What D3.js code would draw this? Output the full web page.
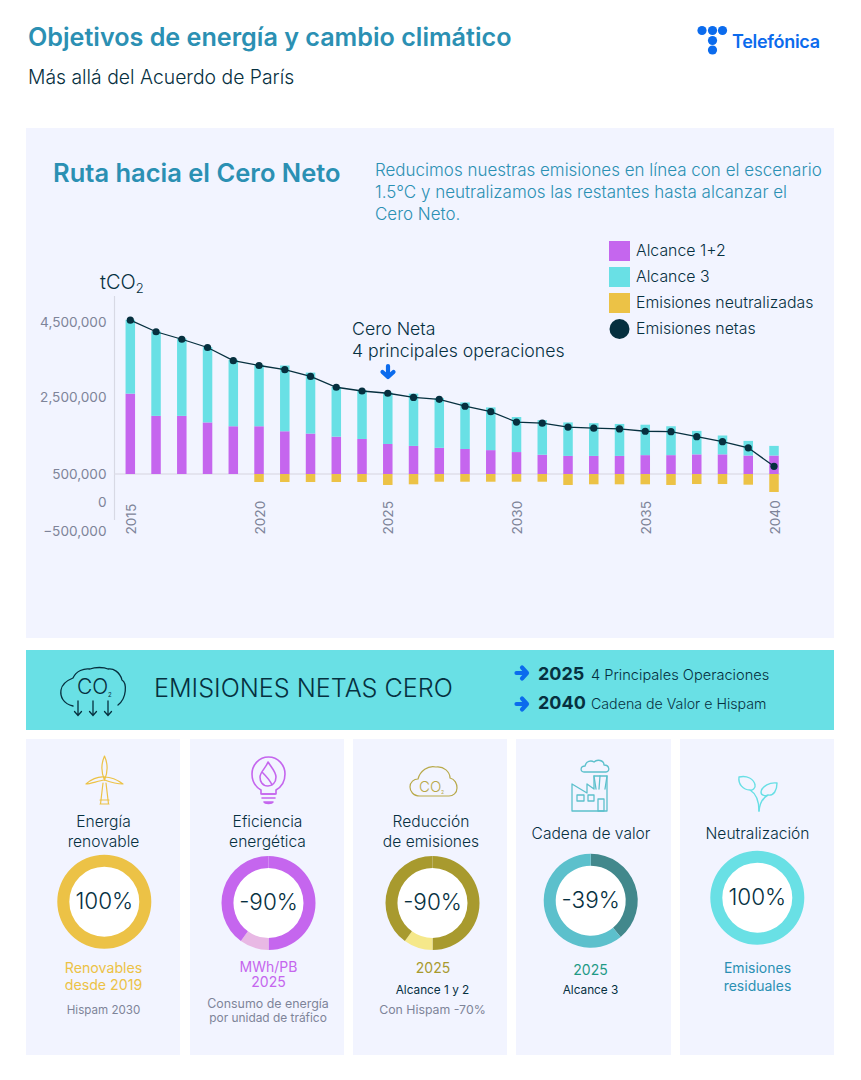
<!DOCTYPE html>
<html><head><meta charset="utf-8">
<script src="https://cdn.jsdelivr.net/npm/d3@7"></script>
<style>html,body{margin:0;padding:0;background:#fff}svg{display:block}text{font-family:Inter,"Noto Sans",sans-serif}</style>
</head><body><svg id="c" width="861" height="1080"></svg>
<script>
const years = d3.range(2015, 2041);
const tickYears = [2015,2020,2025,2030,2035,2040];
const yTicks = [4500000,2500000,500000,0,-500000];
const axisBase = 500000;
const alcance12 = [2090000,1510000,1510000,1340000,1240000,1240000,1110000,1050000,970000,910000,780000,730000,680000,650000,620000,570000,500000,470000,470000,470000,490000,490000,510000,510000,480000,480000];
const alcance3 = [1970000,2240000,2050000,1990000,1750000,1620000,1730000,1600000,1300000,1270000,1340000,1360000,1290000,1210000,1110000,910000,900000,870000,850000,830000,790000,750000,610000,490000,380000,250000];
const neutralizadas = [0,0,0,0,0,143000,143000,143000,143000,143000,196000,184000,138000,138000,138000,138000,138000,196000,184000,184000,184000,196000,179000,179000,191000,321000];
const netas = [4050000,3740000,3540000,3320000,2970000,2840000,2730000,2550000,2260000,2160000,2100000,1990000,1940000,1760000,1620000,1350000,1320000,1220000,1190000,1170000,1110000,1100000,970000,840000,680000,200000];
const legendLabels = ["Alcance 1+2","Alcance 3","Emisiones neutralizadas","Emisiones netas"];

const NAVY="#06303f", TEAL="#2b90b3", GREY="#7e8499", PANEL="#f2f4ff", CYAN="#69e0e5", PURPLE="#c566ee", YELLOW="#ecc246", BLUE="#0b6bed";
const svg=d3.select("#c");
function T(x,y,s,size,fill,anchor,weight,parent){
  return (parent||svg).append("text").attr("x",x).attr("y",y).attr("font-size",size).attr("fill",fill)
    .attr("text-anchor",anchor||"start").attr("font-weight",weight||400).text(s);
}
function R(x,y,w,h,fill){return svg.append("rect").attr("x",x).attr("y",y).attr("width",w).attr("height",h).attr("fill",fill);}

// header
T(28,46,"Objetivos de energía y cambio climático",25.15,TEAL,"start",600);
T(28,84,"Más allá del Acuerdo de París",19.35,NAVY,"start",300);
// logo
const logo=svg.append("g").attr("fill",BLUE);
[[702,30.5],[712.5,30.5],[722.5,30.5],[712.5,40.5],[712.5,50]].forEach(p=>logo.append("circle").attr("cx",p[0]).attr("cy",p[1]).attr("r",4.6));
T(732,48,"Telefónica",18,BLUE,"start",600).attr("letter-spacing",-0.3);

// main panel
R(26,128,808,510,PANEL);
T(53,182,"Ruta hacia el Cero Neto",25.5,TEAL,"start",600);
["Reducimos nuestras emisiones en línea con el escenario","1.5°C y neutralizamos las restantes hasta alcanzar el","Cero Neto."].forEach((s,i)=>T(375,176+i*22,s,16.98,TEAL,"start",300));

// chart
const x=d3.scalePoint().domain(years).range([130.3,774]);
const y=d3.scaleLinear().domain([-500000,0,500000,2500000,4500000]).range([531,502,474,397,322]);
const bw=9.5;
const axisY=d3.axisLeft(y).tickValues(yTicks).tickSize(0).tickFormat(d3.format(","));
const gy=svg.append("g").attr("transform","translate(110,0)").call(axisY);
gy.select(".domain").remove();
gy.selectAll("text").attr("fill",GREY).attr("font-size",13.6).attr("dx",-0.5).style("font-family","Inter");
svg.append("line").attr("x1",114.5).attr("x2",114.5).attr("y1",296).attr("y2",520).attr("stroke","#d8d9e4").attr("stroke-width",1.2);
const axisX=d3.axisBottom(x).tickValues(tickYears).tickSize(0);
const gx=svg.append("g").attr("transform","translate(0,474)").call(axisX);
gx.select(".domain").attr("stroke","#dfdfea").attr("stroke-width",1.5).attr("d","M114.5,0H780");
gx.selectAll("text").attr("fill",GREY).attr("font-size",13.6).attr("text-anchor","start").attr("dy",0)
  .attr("transform","translate(5,60.5) rotate(-90)").attr("x",0).attr("y",0).style("font-family","Inter");

const bars=svg.append("g");
years.forEach((yr,i)=>{
  const cx=x(yr);
  const y0=y(axisBase), y1=y(axisBase+alcance12[i]), y2=y(axisBase+alcance12[i]+alcance3[i]);
  bars.append("rect").attr("x",cx-bw/2).attr("width",bw).attr("y",y1).attr("height",y0-y1).attr("fill",PURPLE);
  bars.append("rect").attr("x",cx-bw/2).attr("width",bw).attr("y",y2).attr("height",y1-y2).attr("fill",CYAN);
  if(neutralizadas[i]>0){
    const y3=y(axisBase-neutralizadas[i]);
    bars.append("rect").attr("x",cx-bw/2).attr("width",bw).attr("y",y0).attr("height",y3-y0).attr("fill",YELLOW);
  }
});
const line=d3.line().x((d,i)=>x(years[i])).y(d=>y(axisBase+d));
svg.append("path").attr("d",line(netas)).attr("fill","none").attr("stroke",NAVY).attr("stroke-width",1.3);
svg.append("g").selectAll("circle").data(netas).join("circle")
  .attr("cx",(d,i)=>x(years[i])).attr("cy",d=>y(axisBase+d)).attr("r",3.6).attr("fill",NAVY);

// unit
const unit=T(100,289,"tCO",20,NAVY,"start",300);
unit.append("tspan").attr("font-size",13).attr("dy",3.5).text("2");
// legend
[PURPLE,CYAN,YELLOW].forEach((c,i)=>R(609,241+i*26,21,20,c));
svg.append("circle").attr("cx",619.5).attr("cy",329).attr("r",10).attr("fill",NAVY);
legendLabels.forEach((s,i)=>T(636,256+i*26,s,15.85,NAVY,"start",300));
// annotation
T(352,335,"Cero Neta",17.7,NAVY,"start",300);
T(352,357,"4 principales operaciones",17.7,NAVY,"start",300);
function downArrow(cx,cy,c){
  svg.append("path").attr("d",`M${cx},${cy-6}V${cy+4}M${cx-5.5},${cy}L${cx},${cy+5}L${cx+5.5},${cy}`)
   .attr("fill","none").attr("stroke",c).attr("stroke-width",4.2).attr("stroke-linejoin","round").attr("stroke-linecap","round");
}
downArrow(388,372,BLUE);

// band
R(26,650,808,80,CYAN);
T(154,697,"EMISIONES NETAS CERO",25.15,NAVY,"start",300);
function rightArrow(cx,cy,c){
  svg.append("path").attr("d",`M${cx-5.5},${cy}H${cx+4}M${cx},${cy-5.5}L${cx+5},${cy}L${cx},${cy+5.5}`)
   .attr("fill","none").attr("stroke",c).attr("stroke-width",4.2).attr("stroke-linejoin","round").attr("stroke-linecap","round");
}
rightArrow(522,673,BLUE); rightArrow(522,704,BLUE);
T(538,680,"2025",18,NAVY,"start",700);
T(591,680,"4 Principales Operaciones",14.6,NAVY,"start",300);
T(538,709,"2040",18,NAVY,"start",700);
T(591,709,"Cadena de Valor e Hispam",14.2,NAVY,"start",300);
// CO2 cloud icon
const ci=svg.append("g").attr("fill","none").attr("stroke",NAVY).attr("stroke-width",1.3).attr("stroke-linecap","round");
ci.append("path").attr("d","M73,706C63,704 60,696 61,690C62,684 68,680 73,678C76,671 84,668 90,669C95,667 104,667 108,669C113,668 120,672 122,680C127,683 127,698 118,705");
T(77,694,"CO",21,NAVY,"start",300).attr("stroke","none");
T(108,697,"2",6,NAVY);
[78,93,108].forEach(px=>ci.append("path").attr("d",`M${px},701V715M${px-3.5},711.5L${px},715.5L${px+3.5},711.5`));

// cards
const cardX=[[26,154],[190,154],[353,154],[516,155],[680,154]];
cardX.forEach(c=>R(c[0],739,c[1],316,PANEL));

const donuts=[
 {cx:104.3,cy:901.7,vals:[100],cols:[YELLOW],label:"100%"},
 {cx:268.5,cy:903,vals:[50,10,40],cols:[PURPLE,"#e8b8e4",PURPLE],label:"-90%"},
 {cx:432.5,cy:903,vals:[50,10,40],cols:["#a89a2e","#f5e88a","#a89a2e"],label:"-90%"},
 {cx:590.7,cy:900.7,vals:[39,61],cols:["#42888c","#5cc0cc"],label:"-39%"},
 {cx:757.3,cy:897.7,vals:[100],cols:[CYAN],label:"100%"}
];
const arc=d3.arc().innerRadius(35).outerRadius(47);
const pie=d3.pie().sort(null);
donuts.forEach(d=>{
  const g=svg.append("g").attr("transform",`translate(${d.cx},${d.cy})`);
  g.append("circle").attr("r",36).attr("fill","#fff");
  g.selectAll("path").data(pie(d.vals)).join("path").attr("d",arc).attr("fill",(p,i)=>d.cols[i]);
  T(0,7,d.label,22.5,NAVY,"middle",300,g);
});

// card texts
const C=[103.5,267.5,431,591,757.5];
T(C[0],827,"Energía",15.6,NAVY,"middle",300); T(C[0],847,"renovable",15.6,NAVY,"middle",300);
T(C[1],827,"Eficiencia",15.6,NAVY,"middle",300); T(C[1],847,"energética",15.6,NAVY,"middle",300);
T(C[2],827,"Reducción",15.6,NAVY,"middle",300); T(C[2],847,"de emisiones",15.6,NAVY,"middle",300);
T(C[3],839,"Cadena de valor",15.6,NAVY,"middle",300);
T(C[4],839,"Neutralización",15.6,NAVY,"middle",300);

T(C[0],973,"Renovables",14.2,YELLOW,"middle",400); T(C[0],990,"desde 2019",14.2,YELLOW,"middle",400);
T(C[0],1014,"Hispam 2030",11.6,GREY,"middle");

T(268.5,972,"MWh/PB",14,PURPLE,"middle",400); T(268.5,987,"2025",14,PURPLE,"middle",400);
T(268,1008,"Consumo de energía",12.4,GREY,"middle"); T(268,1022,"por unidad de tráfico",11.9,GREY,"middle");

T(433,973,"2025",14,"#a89a2e","middle");
T(432.5,994,"Alcance 1 y 2",11.8,NAVY,"middle");
T(432.5,1014,"Con Hispam -70%",12.3,GREY,"middle");

T(590.5,975,"2025",14,"#1f9a86","middle");
T(590.5,994,"Alcance 3",11.8,NAVY,"middle");

T(757.5,973,"Emisiones",14,TEAL,"middle"); T(757.5,991,"residuales",14,TEAL,"middle");

// icons
function icon(c,w){return svg.append("g").attr("fill","none").attr("stroke",c).attr("stroke-width",w||1.2).attr("stroke-linejoin","round").attr("stroke-linecap","round");}
const t=icon(YELLOW);
t.append("path").attr("d","M104.5,756C101,764 101,772 104.5,780C108,772 108,764 104.5,756Z");
t.append("path").attr("d","M104.5,780C98,781 90,784 86,784C90,780 98,776 104.5,777Z");
t.append("path").attr("d","M104.5,777C112,777 119,781 123,784C118,784 110,782 104.5,780Z");
t.append("path").attr("d","M103,783L100.5,804H108.5L106,783M100,800H109M100,804H109");
const b=icon(PURPLE,1.6);
b.append("path").attr("d","M261,790C254,786 252,780 252,774C252,765 259,757 268.5,757C278,757 285,765 285,774C285,780 283,786 276,790V794H261Z");
b.append("path").attr("d","M262,794H275M262,798H275M264,802H273C272,804 265,804 264,802Z");
b.append("path").attr("d","M268,762C272,768 276,772 276,777C276,783 272,786 268,786C262,786 260,781 260,777C260,772 266,768 268,762ZM262,772C266,776 270,780 272,785");
const cl=icon("#b8a94a");
cl.append("path").attr("d","M420,796C413,796 410,791 410,787C410,782 414,779 418,779C420,771 428,765 436,767C444,766 450,772 450,778C455,779 457,784 457,788C457,793 453,796 449,796Z");
T(419,792,"CO",15,"#b8a94a","start",300).attr("stroke","none");
T(441,794,"2",5,"#b8a94a");
const f=icon("#5cc0cc",1.3);
f.append("path").attr("d","M572,811V784L587,793V784L594,789V776H607V811Z");
f.append("path").attr("d","M577,795H584V801H577ZM588,795H594V801H588ZM598,799H604V811H598Z");
f.append("path").attr("d","M594,776L596,789M600,776L599,789M607,776L605,789");
f.append("path").attr("d","M584,772C580,772 580,766 585,766C586,761 591,760 594,762C597,759 604,760 604,765C610,765 610,772 606,772Z");
const l=icon("#68dfe5",1.4);
l.append("path").attr("d","M759,811C759,800 755,793 750,790C743,790 738,784 739,777C747,775 754,779 755,785C756,788 752,791 750,790");
l.append("path").attr("d","M759,811C760,801 764,797 768,795C774,796 777,790 777,783C770,782 762,786 761,792C761,796 766,796 768,795");
</script></body></html>
